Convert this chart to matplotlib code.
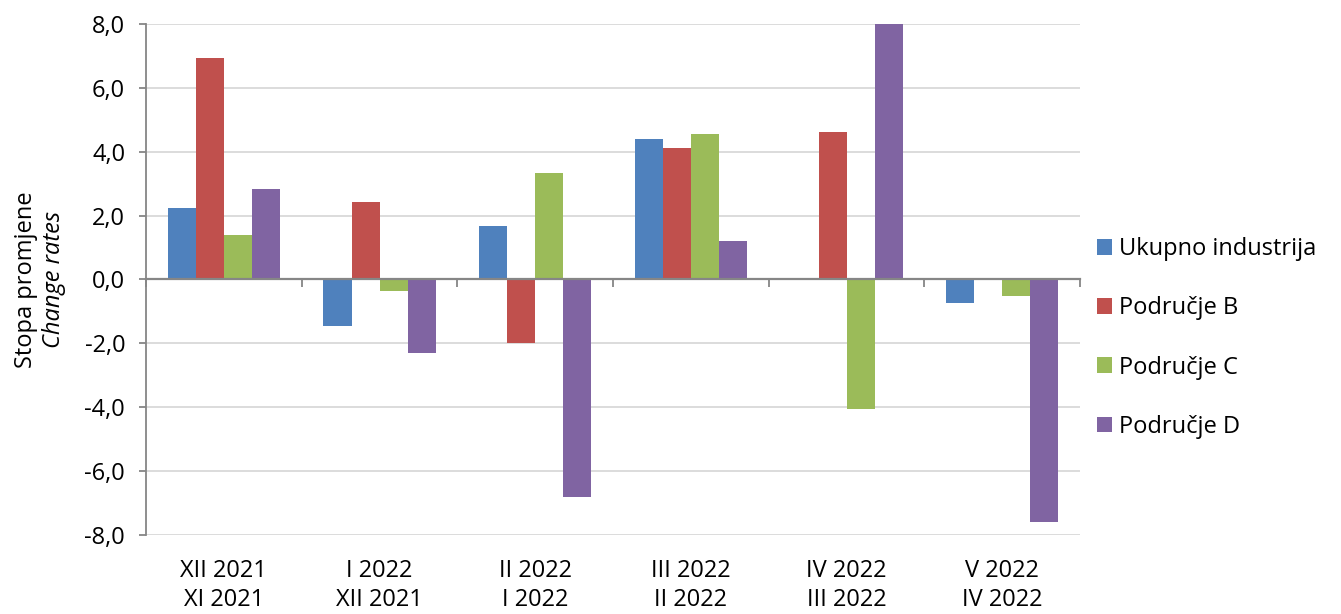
import matplotlib.pyplot as plt
import numpy as np
from matplotlib.ticker import FuncFormatter

plt.rcParams['font.family'] = ['Open Sans', 'DejaVu Sans']

periods = ['XII 2021\nXI 2021', 'I 2022\nXII 2021', 'II 2022\nI 2022',
           'III 2022\nII 2022', 'IV 2022\nIII 2022', 'V 2022\nIV 2022']
series_names = ['Ukupno industrija', 'Područje B', 'Područje C', 'Područje D']
ukupno = [2.25, -1.46, 1.66, 4.41, 0.05, -0.75]
podrucje_b = [6.95, 2.42, -2.0, 4.13, 4.63, 0.05]
podrucje_c = [1.38, -0.37, 3.35, 4.57, -4.07, -0.53]
podrucje_d = [2.82, -2.31, -6.8, 1.19, 8.0, -7.58]
yticks = [-8, -6, -4, -2, 0, 2, 4, 6, 8]

colors = ['#4F81BD', '#C0504D', '#9BBB59', '#8064A2']
data = [ukupno, podrucje_b, podrucje_c, podrucje_d]
fs = 17

fig = plt.figure(figsize=(13.41, 6.14), dpi=100)
ax = fig.add_axes([0.1089, 0.1287, 0.6965, 0.8322])

x = np.arange(len(periods))
w = 0.18
for i, (vals, c, name) in enumerate(zip(data, colors, series_names)):
    ax.bar(x + (i - 1.5) * w, vals, w, color=c, label=name, zorder=3)

ax.set_xlim(-0.5, len(periods) - 0.5)
ax.set_ylim(-8, 8)
ax.set_yticks(yticks)
ax.yaxis.set_major_formatter(FuncFormatter(lambda v, p: ('%.1f' % v).replace('.', ',')))
ax.grid(axis='y', color='#D9D9D9', linewidth=1.3, zorder=0)
ax.tick_params(axis='y', labelsize=fs, length=5, color='#868686', width=1.3, pad=10)

for s in ['top', 'right']:
    ax.spines[s].set_visible(False)
ax.spines['left'].set_color('#868686')
ax.spines['left'].set_linewidth(1.3)
ax.spines['bottom'].set_position(('data', 0))
ax.spines['bottom'].set_color('#868686')
ax.spines['bottom'].set_linewidth(1.6)
ax.spines['bottom'].set_zorder(4)
ax.set_xticks(np.arange(len(periods) + 1) - 0.5)
ax.tick_params(axis='x', labelbottom=False, length=6, color='#868686', width=1.3)

sec = ax.secondary_xaxis('bottom')
sec.set_xticks(x)
sec.set_xticklabels(periods)
sec.tick_params(length=0, labelsize=fs, pad=17)
sec.spines['bottom'].set_visible(False)
for lbl in sec.get_xticklabels():
    lbl.set_linespacing(1.3)

fig.text(26 / 1341, 1 - 280 / 614, 'Stopa promjene', rotation=90, fontsize=fs,
         ha='center', va='center')
fig.text(54 / 1341, 1 - 280 / 614, 'Change rates', rotation=90, fontsize=fs,
         style='italic', ha='center', va='center')

ax.legend(loc='center left', bbox_to_anchor=(1097 / 1341, 1 - 338 / 614),
          bbox_transform=fig.transFigure, frameon=False, fontsize=fs,
          borderpad=0, borderaxespad=0, handlelength=0.64, handleheight=0.64,
          handletextpad=0.3, labelspacing=1.49)

fig.savefig('out.png', dpi=100)
